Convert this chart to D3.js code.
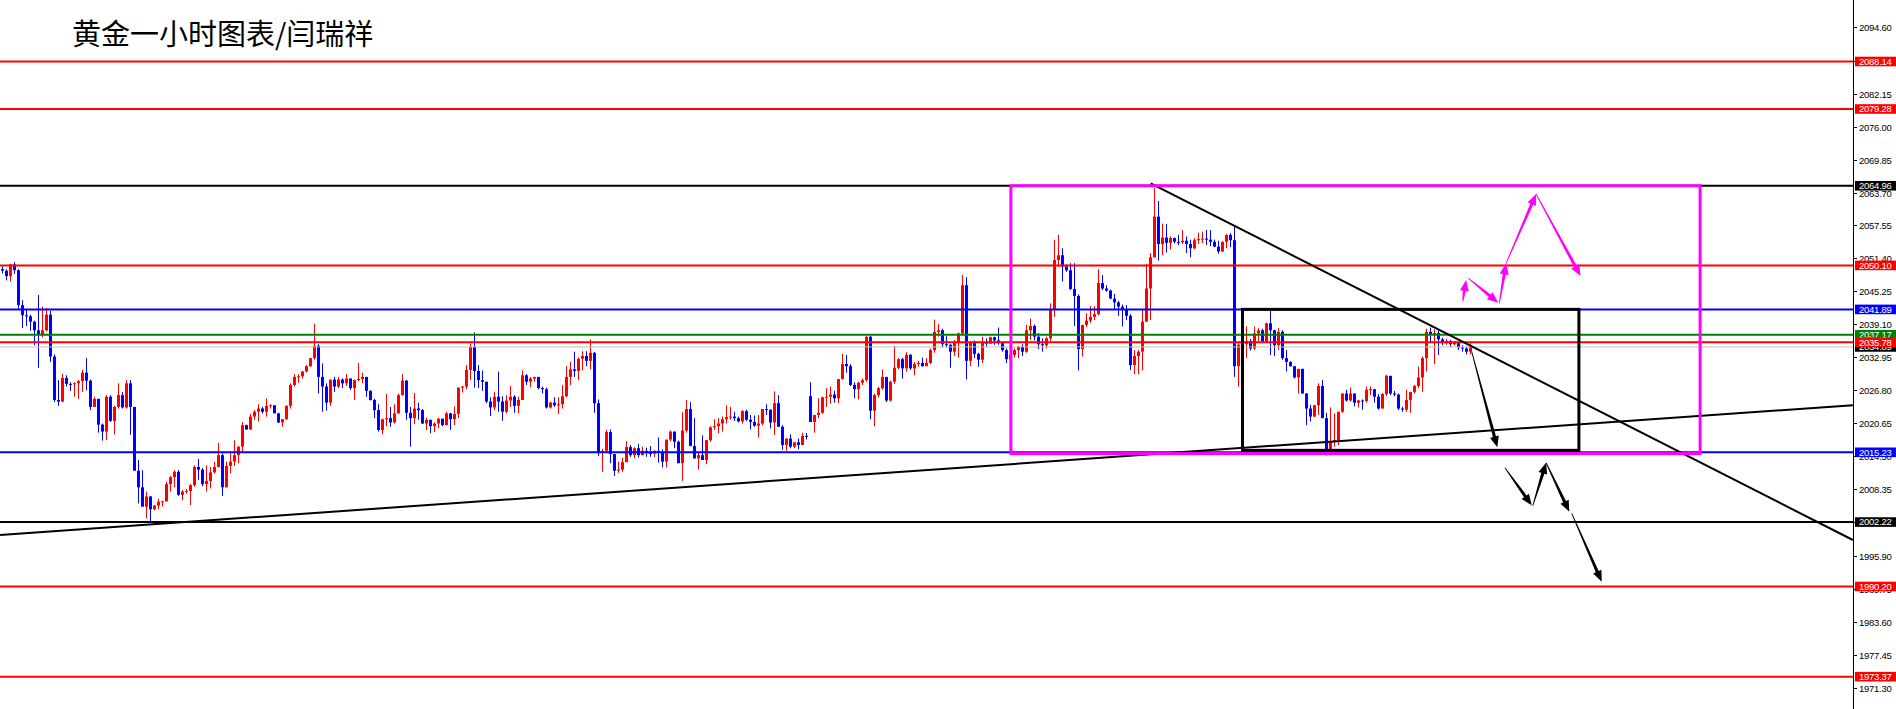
<!DOCTYPE html>
<html><head><meta charset="utf-8">
<script src="https://cdn.jsdelivr.net/npm/d3@7/dist/d3.min.js"></script>
<style>html,body{margin:0;padding:0;background:#fff;overflow:hidden}</style>
</head><body><svg id="c" width="1896" height="709"></svg>
<script>
// ---------------- DATA ----------------
const title = "黄金一小时图表/闫瑞祥";
const firstOpen = 2049.4;
const gapOpens = {202: 2025.7};
const closes = [
2049.1,2048.1,2050.3,2049.2,2042.7,2040.8,2040.6,2039.6,2038.0,2037.3,
2038.0,2040.9,2033.1,2025.0,2024.7,2029.1,2028.0,2027.9,2028.1,2028.5,
2030.1,2028.6,2023.7,2025.2,2020.4,2019.1,2025.6,2021.1,2023.7,2025.9,
2023.6,2028.1,2023.7,2011.8,2008.7,2005.1,2007.0,2004.6,2005.3,2006.0,
2006.1,2009.3,2010.6,2011.6,2007.3,2007.9,2008.0,2009.1,2012.5,2012.0,
2009.3,2009.9,2011.5,2012.5,2014.7,2008.7,2012.7,2013.5,2014.7,2016.3,
2020.3,2019.5,2021.9,2022.8,2023.4,2022.8,2023.9,2024.0,2022.5,2020.8,
2021.4,2023.9,2027.8,2029.3,2029.4,2030.3,2031.3,2032.8,2035.1,2029.3,
2027.5,2024.5,2028.8,2027.5,2028.8,2028.1,2029.0,2027.2,2028.7,2028.9,
2029.3,2026.7,2025.0,2023.1,2019.4,2021.4,2021.6,2020.8,2022.5,2025.9,
2028.6,2022.6,2021.6,2023.4,2023.1,2020.6,2021.3,2020.1,2020.6,2021.5,
2020.3,2022.5,2021.4,2022.4,2027.3,2027.5,2030.6,2034.9,2030.4,2028.7,
2028.4,2024.7,2023.6,2025.6,2024.7,2022.8,2024.9,2025.6,2023.9,2025.0,
2029.6,2028.4,2029.0,2029.3,2027.2,2027.0,2023.6,2024.5,2024.0,2024.2,
2025.7,2029.3,2030.7,2030.4,2032.7,2033.2,2032.3,2033.8,2024.4,2015.2,
2015.5,2019.0,2014.9,2011.8,2012.0,2013.4,2016.2,2014.7,2016.0,2014.7,
2015.5,2015.1,2015.0,2015.5,2015.3,2013.5,2017.6,2019.1,2017.2,2013.2,
2019.3,2023.3,2016.4,2014.1,2014.7,2013.8,2017.5,2019.9,2020.1,2020.6,
2021.4,2021.8,2021.9,2021.6,2021.0,2022.9,2021.3,2020.9,2020.2,2020.6,
2023.3,2023.2,2020.8,2024.4,2020.0,2016.6,2017.8,2016.3,2017.1,2016.6,
2018.3,2018.2,2020.9,2022.2,2022.6,2025.5,2025.6,2026.0,2025.3,2028.9,
2031.7,2031.3,2027.8,2027.0,2028.2,2028.7,2036.8,2023.0,2025.9,2027.2,
2029.3,2024.9,2028.4,2031.0,2032.6,2030.9,2033.4,2030.9,2031.7,2031.9,
2031.3,2031.9,2034.3,2037.7,2038.0,2035.4,2035.3,2034.0,2035.6,2037.4,
2046.4,2032.3,2035.7,2033.6,2032.5,2035.7,2035.5,2036.7,2036.1,2035.6,
2034.3,2032.6,2033.4,2034.3,2034.9,2034.0,2038.0,2038.8,2036.8,2035.4,
2035.2,2036.5,2041.8,2051.1,2052.0,2049.9,2049.2,2045.7,2044.4,2034.5,
2039.0,2039.8,2040.5,2041.0,2046.8,2045.8,2045.4,2043.9,2043.2,2042.4,
2041.8,2040.7,2031.5,2033.2,2034.0,2039.6,2045.8,2051.6,2059.2,2054.1,
2055.3,2054.3,2055.2,2054.5,2054.4,2054.7,2054.1,2053.3,2054.8,2055.0,
2055.1,2054.9,2054.5,2053.6,2052.7,2054.5,2055.8,2054.8,2031.3,2035.3,
2035.4,2036.0,2034.6,2037.4,2038.0,2035.9,2039.3,2038.0,2035.2,2037.7,
2032.8,2032.1,2031.3,2029.2,2030.8,2026.2,2023.4,2021.9,2024.0,2027.6,
2021.6,2014.7,2017.2,2017.5,2022.8,2026.2,2024.9,2026.2,2024.5,2024.9,
2024.8,2026.9,2027.0,2025.6,2023.4,2026.1,2029.5,2026.2,2026.0,2023.4,
2023.2,2025.0,2026.5,2027.6,2029.2,2032.8,2037.7,2037.2,2037.5,2036.3,
2035.6,2036.0,2035.4,2035.7,2034.8,2034.6,2034.0,2034.89
];
const highs = [
2049.9,2049.4,2050.4,2050.7,2049.4,2043.6,2042.0,2040.9,2039.8,2044.6,
2042.4,2042.1,2041.6,2033.5,2028.7,2029.9,2029.6,2028.3,2028.3,2028.7,
2030.6,2032.8,2028.8,2025.6,2025.2,2020.6,2025.9,2025.9,2023.9,2028.1,
2026.5,2028.7,2028.7,2023.0,2013.8,2011.9,2007.9,2007.1,2005.4,2006.6,
2006.2,2009.7,2010.8,2011.9,2011.9,2008.2,2008.4,2009.3,2012.8,2014.0,
2012.3,2012.8,2012.5,2013.5,2017.0,2015.0,2013.5,2015.5,2017.5,2016.3,
2020.9,2020.4,2022.4,2023.1,2024.2,2023.7,2025.3,2024.2,2024.0,2022.6,
2021.4,2024.0,2028.1,2029.8,2029.8,2030.4,2031.5,2032.8,2039.2,2035.4,
2031.8,2028.1,2028.8,2029.3,2029.3,2029.0,2029.8,2028.7,2028.8,2031.9,
2030.1,2029.3,2026.8,2025.2,2024.2,2021.5,2026.1,2023.7,2024.2,2026.2,
2029.8,2028.7,2023.7,2026.3,2024.5,2023.3,2021.7,2021.3,2020.8,2021.7,
2021.5,2022.8,2022.6,2023.8,2027.3,2027.6,2031.5,2035.5,2037.6,2031.5,
2030.5,2028.4,2025.5,2026.5,2030.3,2025.7,2025.9,2027.6,2025.9,2025.6,
2030.5,2029.8,2029.3,2029.3,2029.3,2027.5,2027.3,2024.7,2025.5,2025.5,
2027.8,2031.3,2032.1,2034.0,2032.9,2034.1,2034.1,2036.3,2033.9,2025.1,
2015.9,2019.4,2019.5,2014.9,2013.5,2014.2,2017.3,2016.6,2016.2,2016.8,
2016.3,2016.1,2016.4,2015.6,2018.0,2015.8,2017.6,2019.3,2019.1,2017.4,
2022.7,2025.0,2024.6,2021.6,2015.2,2018.4,2017.5,2020.1,2021.4,2021.6,
2021.9,2024.0,2023.7,2022.8,2021.9,2023.1,2023.2,2022.2,2022.1,2022.2,
2023.3,2024.2,2023.2,2026.6,2025.9,2020.3,2017.8,2018.6,2017.2,2017.8,
2018.9,2018.8,2028.3,2022.2,2025.3,2025.6,2027.2,2027.5,2026.7,2028.9,
2033.6,2033.4,2031.7,2028.3,2028.4,2029.0,2036.9,2036.9,2026.2,2027.4,
2030.7,2029.3,2028.6,2035.1,2032.8,2032.9,2033.9,2033.6,2032.1,2032.3,
2032.9,2032.8,2034.6,2040.0,2039.2,2038.3,2036.9,2035.4,2036.2,2037.6,
2048.3,2047.9,2035.7,2036.1,2033.8,2036.8,2036.5,2036.8,2036.8,2038.5,
2035.9,2034.6,2033.7,2034.6,2035.1,2035.4,2039.0,2040.2,2039.1,2037.5,
2036.5,2036.8,2043.0,2054.9,2055.8,2053.3,2050.3,2050.5,2050.5,2044.7,
2039.0,2041.2,2042.5,2042.5,2049.4,2048.3,2046.4,2045.6,2044.8,2043.5,
2042.8,2042.7,2041.0,2034.3,2034.3,2041.8,2050.4,2052.4,2064.5,2062.1,
2057.9,2057.8,2055.5,2055.3,2055.8,2056.7,2055.5,2054.9,2055.2,2056.2,
2056.4,2056.7,2056.7,2054.9,2054.7,2054.6,2055.9,2056.1,2057.6,2035.6,
2036.0,2038.7,2036.4,2038.7,2038.4,2038.3,2039.4,2041.7,2038.1,2038.4,
2038.0,2034.3,2032.2,2031.3,2030.8,2030.8,2026.3,2024.1,2024.1,2028.1,
2028.7,2022.6,2023.6,2022.5,2022.8,2026.2,2026.9,2027.3,2026.2,2025.0,
2025.1,2027.5,2027.5,2027.0,2026.1,2026.3,2029.7,2029.5,2026.7,2026.2,
2023.7,2026.9,2026.5,2027.8,2031.2,2033.1,2038.3,2038.5,2038.2,2038.0,
2036.6,2036.4,2036.2,2036.0,2035.9,2035.2,2034.9,2035.7
];
const lows = [
2048.6,2047.3,2047.1,2048.5,2042.0,2038.4,2038.8,2037.9,2035.2,2031.0,
2036.7,2037.8,2032.1,2024.6,2023.9,2024.6,2027.5,2026.7,2025.6,2025.2,
2026.5,2026.8,2023.1,2023.7,2018.9,2017.4,2017.5,2020.9,2018.6,2023.4,
2023.4,2023.4,2018.5,2011.8,2005.7,2005.1,2002.9,2002.3,2004.4,2004.6,
2005.1,2006.0,2007.9,2008.7,2007.1,2006.3,2007.5,2005.4,2008.8,2010.1,
2008.9,2007.9,2008.5,2011.3,2012.4,2007.1,2008.8,2011.3,2012.7,2013.2,
2015.3,2019.4,2019.4,2021.3,2021.0,2022.5,2021.9,2023.4,2022.5,2020.7,
2020.0,2021.3,2023.4,2027.5,2028.2,2029.0,2030.1,2031.2,2032.5,2026.2,
2022.8,2023.0,2023.9,2026.5,2027.2,2027.2,2027.6,2026.9,2025.0,2028.5,
2028.1,2025.6,2024.9,2021.6,2019.1,2018.6,2020.1,2020.0,2020.6,2022.4,
2025.8,2021.3,2016.3,2020.5,2021.3,2020.5,2019.4,2018.8,2019.0,2019.7,
2020.1,2020.3,2019.4,2020.3,2021.6,2026.4,2027.0,2028.7,2027.3,2027.2,
2026.7,2024.4,2022.0,2023.1,2022.8,2021.1,2022.5,2023.7,2022.6,2022.5,
2025.0,2027.8,2027.4,2028.4,2027.0,2026.2,2023.4,2023.4,2023.7,2022.4,
2023.4,2025.5,2027.8,2029.3,2028.7,2030.5,2031.3,2030.7,2022.6,2014.5,
2011.6,2015.2,2013.2,2010.8,2011.4,2011.6,2013.4,2014.4,2014.1,2014.3,
2014.7,2014.4,2014.4,2014.4,2013.3,2012.4,2012.4,2017.3,2016.0,2013.2,
2009.9,2018.9,2016.4,2014.1,2012.0,2013.8,2013.0,2017.2,2019.4,2018.8,
2019.1,2020.6,2021.3,2021.1,2020.8,2020.6,2021.1,2019.5,2020.0,2018.0,
2020.3,2022.2,2019.7,2018.5,2020.0,2015.7,2015.5,2016.0,2016.0,2015.8,
2016.6,2017.6,2020.9,2018.9,2021.6,2022.4,2023.7,2024.3,2024.5,2024.4,
2028.8,2030.1,2027.6,2025.3,2025.1,2027.8,2028.4,2021.4,2020.1,2025.5,
2026.9,2024.6,2024.7,2028.0,2030.7,2029.0,2030.3,2030.6,2029.6,2031.2,
2031.2,2031.3,2031.7,2033.8,2036.8,2034.8,2034.8,2031.0,2033.2,2032.9,
2037.1,2028.8,2031.3,2032.8,2031.2,2031.9,2034.9,2035.5,2035.3,2035.3,
2034.0,2031.9,2032.3,2032.9,2032.8,2033.2,2033.8,2036.2,2036.1,2034.5,
2034.0,2034.6,2035.9,2040.5,2049.9,2047.1,2048.9,2045.5,2038.8,2030.5,
2033.1,2038.6,2039.4,2039.9,2040.8,2045.5,2045.2,2043.8,2041.9,2040.7,
2038.7,2039.9,2030.6,2029.8,2029.8,2030.5,2039.6,2039.9,2051.6,2051.0,
2052.0,2052.5,2053.1,2054.2,2053.9,2054.1,2052.4,2051.6,2053.1,2054.1,
2054.3,2053.9,2053.7,2053.5,2052.3,2052.6,2053.3,2053.5,2029.3,2027.5,
2034.0,2032.8,2034.2,2034.3,2036.0,2035.6,2035.7,2033.4,2033.2,2034.3,
2032.5,2030.3,2031.2,2029.0,2026.2,2026.2,2020.3,2021.0,2021.8,2022.2,
2021.6,2014.7,2015.6,2016.3,2016.6,2022.6,2024.7,2024.7,2023.8,2023.6,
2023.2,2024.5,2025.9,2024.5,2023.2,2023.4,2025.7,2025.9,2025.7,2023.1,
2022.8,2022.8,2022.6,2026.2,2027.2,2026.5,2030.3,2035.8,2031.7,2033.4,
2035.2,2035.3,2034.9,2035.2,2034.3,2034.0,2033.5,2033.5
];
// horizontal level lines: price + kind
const levelPrices = [2088.14, 2079.28, 2064.96, 2050.10, 2041.89, 2037.17, 2035.78, 2015.23, 2002.22, 1990.20, 1973.37];
const levelKinds  = ["red","red","black","red","blue","green","red","blue","black","red","red"];
const bidPrice = 2034.89;
// axis tick labels
const tickLabels = ["2094.60","2088.30","2082.15","2076.00","2069.85","2063.70","2057.55","2051.40","2045.25","2039.10","2032.95","2026.80","2020.65","2014.50","2008.35","2002.20","1995.90","1989.75","1983.60","1977.45","1971.30"];
// drawn objects in (bar index, price)
const trendUp   = [[-0.6, 1999.80], [462.6, 2024.03]];
const trendDown = [[287.05, 2065.40], [462.6, 1998.87]];
const boxMagenta = [[252.1, 2064.96], [424.4, 2015.0]];
const boxBlack   = [[310.0, 2041.9], [394.1, 2015.6]];
const arrowsMagenta = [
  [[365.05, 2043.33], [365.9, 2047.37]],
  [[366.45, 2047.69], [373.95, 2043.14]],
  [[374.2, 2043.03], [375.9, 2050.49]],
  [[375.9, 2050.49], [383.4, 2063.42]],
  [[383.4, 2063.42], [394.5, 2048.12]]
];
const arrowsBlack = [
  [[367.3, 2034.0], [373.7, 2016.16]],
  [[375.6, 2012.36], [382.3, 2005.34]],
  [[382.55, 2005.21], [385.9, 2013.29]],
  [[385.9, 2013.29], [391.7, 2004.15]],
  [[392.3, 2003.85], [399.8, 1991.09]]
];

// ---------------- STYLE / LAYOUT ----------------
const W = 1896, H = 709, axisX = 1853.5;
const colors = {red:"#ff0000", blue:"#0000ff", green:"#008000", black:"#000000", magenta:"#ff00ff", gray:"#c0c0c0"};

const x = d3.scaleLinear().domain([0, 462]).range([2.5, 1850.5]);
const y = d3.scaleLinear().domain([2088.14, 1973.37]).range([61.5, 676.7]);

const svg = d3.select("#c");
svg.append("rect").attr("width", W).attr("height", H).attr("fill", "#fff");
svg.append("defs").append("clipPath").attr("id","plot")
  .append("rect").attr("x",0).attr("y",0).attr("width",axisX).attr("height",H);
const plot = svg.append("g").attr("clip-path","url(#plot)");

// candles
const bars = closes.map((c, i) => {
  const o = i === 0 ? firstOpen : (gapOpens[i] !== undefined ? gapOpens[i] : closes[i-1]);
  return {i, o, c, h: Math.max(highs[i], o, c), l: Math.min(lows[i], o, c)};
});
const cg = plot.append("g");
bars.forEach(b => {
  const col = b.c >= b.o ? colors.red : colors.blue;
  const cx = Math.round(x(b.i) - 0.5) + 0.5;
  cg.append("line").attr("x1",cx).attr("x2",cx).attr("y1",y(b.h)).attr("y2",y(b.l))
    .attr("stroke",col).attr("stroke-width",1);
  const top = y(Math.max(b.o,b.c)), bot = y(Math.min(b.o,b.c));
  cg.append("rect").attr("x",cx-1.5).attr("width",3)
    .attr("y",top).attr("height",Math.max(1, bot-top)).attr("fill",col);
});

// bid line
plot.append("line").attr("x1",0).attr("x2",axisX).attr("y1",y(bidPrice)).attr("y2",y(bidPrice))
  .attr("stroke",colors.gray).attr("stroke-width",1);
// level lines
levelPrices.forEach((p,k) => {
  plot.append("line").attr("x1",0).attr("x2",axisX).attr("y1",y(p)).attr("y2",y(p))
    .attr("stroke",colors[levelKinds[k]]).attr("stroke-width",2);
});

// trendlines
[trendUp, trendDown].forEach(t => {
  plot.append("line").attr("x1",x(t[0][0])).attr("y1",y(t[0][1])).attr("x2",x(t[1][0])).attr("y2",y(t[1][1]))
    .attr("stroke","#000").attr("stroke-width",2);
});

// boxes
[[boxMagenta, colors.magenta],[boxBlack, colors.black]].forEach(([b,col]) => {
  plot.append("rect").attr("x",x(b[0][0])).attr("y",y(b[0][1]))
    .attr("width",x(b[1][0])-x(b[0][0])).attr("height",y(b[1][1])-y(b[0][1]))
    .attr("fill","none").attr("stroke",col).attr("stroke-width",3);
});

// arrows (tapered shaft + head)
function arrowPath(a){
  const x0=x(a[0][0]), y0=y(a[0][1]), x1=x(a[1][0]), y1=y(a[1][1]);
  const dx=x1-x0, dy=y1-y0, L=Math.hypot(dx,dy), ux=dx/L, uy=dy/L, nx=-uy, ny=ux;
  const hl=Math.min(11, L*0.5), bx=x1-ux*hl, by=y1-uy*hl;
  const pts=[[x0+nx*0.4,y0+ny*0.4],[bx+nx*1.6,by+ny*1.6],[bx+nx*4.5,by+ny*4.5],[x1,y1],
             [bx-nx*4.5,by-ny*4.5],[bx-nx*1.6,by-ny*1.6],[x0-nx*0.4,y0-ny*0.4]];
  return "M"+pts.map(p=>p[0].toFixed(1)+","+p[1].toFixed(1)).join("L")+"Z";
}
arrowsMagenta.forEach(a => plot.append("path").attr("d",arrowPath(a)).attr("fill",colors.magenta));
arrowsBlack.forEach(a => plot.append("path").attr("d",arrowPath(a)).attr("fill",colors.black));

// title
svg.append("text").attr("x",72).attr("y",45).text(title)
  .attr("font-family","'Noto Sans CJK SC', sans-serif").attr("font-size",29).attr("fill","#000");

// right axis
svg.append("line").attr("x1",axisX).attr("x2",axisX).attr("y1",0).attr("y2",H).attr("stroke","#000").attr("stroke-width",1);
const ag = svg.append("g").attr("font-family","'Liberation Sans', Arial, sans-serif").attr("font-size",9.5).attr("letter-spacing","-0.25px");
tickLabels.forEach(t => {
  const yy = Math.round(y(+t)) + 0.5;
  ag.append("line").attr("x1",axisX).attr("x2",axisX+3.5).attr("y1",yy).attr("y2",yy).attr("stroke","#000");
  ag.append("text").attr("x",1859).attr("y",yy).attr("dy","0.36em").text(t).attr("fill","#000");
});
// tags
function tag(p, col){
  const yy = y(p);
  ag.append("rect").attr("x",1855).attr("y",yy-4.8).attr("width",W-1855).attr("height",9.6).attr("fill",col);
  ag.append("text").attr("x",1859).attr("y",yy).attr("dy","0.36em").text(p.toFixed(2)).attr("fill","#fff");
}
tag(bidPrice, colors.black);
levelPrices.forEach((p,k) => tag(p, colors[levelKinds[k]]));
</script></body></html>
